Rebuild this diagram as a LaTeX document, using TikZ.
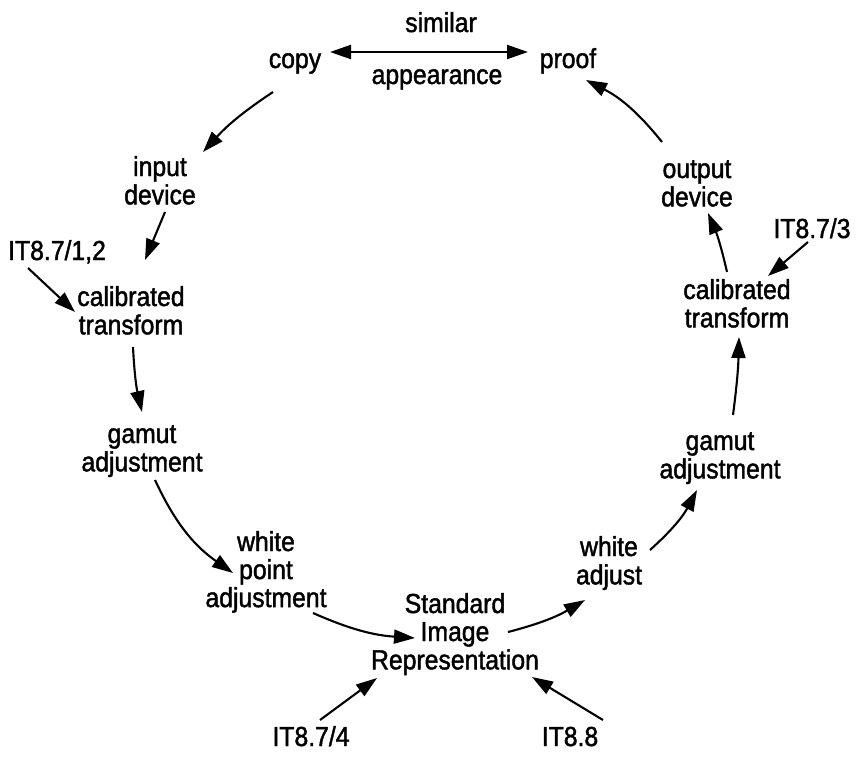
\documentclass[tikz,border=0pt]{standalone}
\usepackage{fontspec}
\setmainfont[FakeStretch=0.9,FakeBold=1.5]{Liberation Sans}
\usetikzlibrary{arrows.meta}
\newcommand{\stk}[1]{\begin{tabular}[t]{@{}c@{}}#1\end{tabular}}
\tikzset{
  lbl/.style={anchor=base, inner sep=0pt, font=\fontsize{27.5}{28}\selectfont},
  arr/.style={-{Triangle[length=21pt,width=14pt]}, line width=2.1pt},
  darr/.style={{Triangle[length=21pt,width=14pt]}-{Triangle[length=21pt,width=14pt]}, line width=2.1pt}
}
\begin{document}
\begin{tikzpicture}[x=1pt,y=-1pt]
\useasboundingbox[fill=white] (0,0) rectangle (856,756);
% labels
\node[lbl] (similar) at (441,32) {similar};
\node[lbl] (appear) at (437,84) {appearance};
\node[lbl] (copy) at (295,68) {copy};
\node[lbl] (proof) at (568,68) {proof};
\node[lbl] (input) at (160,176) {\stk{input\\device}};
\node[lbl] (it12) at (57,260) {IT8.7/1,2};
\node[lbl] (calL) at (131,306) {\stk{calibrated\\transform}};
\node[lbl] (gamL) at (142,443) {\stk{gamut\\adjustment}};
\node[lbl, font=\fontsize{27.5}{27}\selectfont] (wpa) at (266,551) {\stk{white\\point\\adjustment}};
\node[lbl] (sir) at (455,613) {\stk{Standard\\Image\\Representation}};
\node[lbl] (it4) at (311,746) {IT8.7/4};
\node[lbl] (it88) at (570,746) {IT8.8};
\node[lbl] (wa) at (609,556) {\stk{white\\adjust}};
\node[lbl] (gamR) at (720,450) {\stk{gamut\\adjustment}};
\node[lbl] (calR) at (737,299) {\stk{calibrated\\transform}};
\node[lbl] (it3) at (812,238) {IT8.7/3};
\node[lbl] (out) at (697,178) {\stk{output\\device}};
% connectors
\draw[darr] ([shift={(35,-16)}]copy.base) -- ([shift={(-40,-16)}]proof.base);
\draw[arr] ([shift={(-22,24)}]copy.base) to[bend right=7] ([shift={(43,-24)}]input.base);
\draw[arr] ([shift={(5,36)}]input.base) -- ([shift={(14,-46)}]calL.base);
\draw[arr] ([shift={(-29,8)}]it12.base) -- ([shift={(-56,6)}]calL.base);
\draw[arr] ([shift={(2,41)}]calL.base) to[bend right=5] ([shift={(0,-31)}]gamL.base);
\draw[arr] ([shift={(13,37)}]gamL.base) to[bend right=15] ([shift={(-33,22)}]wpa.base);
\draw[arr] ([shift={(47,62)}]wpa.base) to[bend right=10] ([shift={(-40,25)}]sir.base);
\draw[arr] ([shift={(9,-26)}]it4.base) -- ([shift={(-78,65)}]sir.base);
\draw[arr] ([shift={(33,-26)}]it88.base) -- ([shift={(77,64)}]sir.base);
\draw[arr] ([shift={(53,19)}]sir.base) to[bend right=8] ([shift={(-24,44)}]wa.base);
\draw[arr] ([shift={(41,-6)}]wa.base) to[bend right=10] ([shift={(-23,40)}]gamR.base);
\draw[arr] ([shift={(13,-35)}]gamR.base) to[bend right=3] ([shift={(2,38)}]calR.base);
\draw[arr] ([shift={(-4,4)}]it3.base) -- ([shift={(31,-23)}]calR.base);
\draw[arr] ([shift={(-10,-27)}]calR.base) to[bend right=5] ([shift={(11,35)}]out.base);
\draw[arr] ([shift={(-35,-36)}]out.base) to[bend right=12] ([shift={(18,12)}]proof.base);
\end{tikzpicture}
\end{document}
